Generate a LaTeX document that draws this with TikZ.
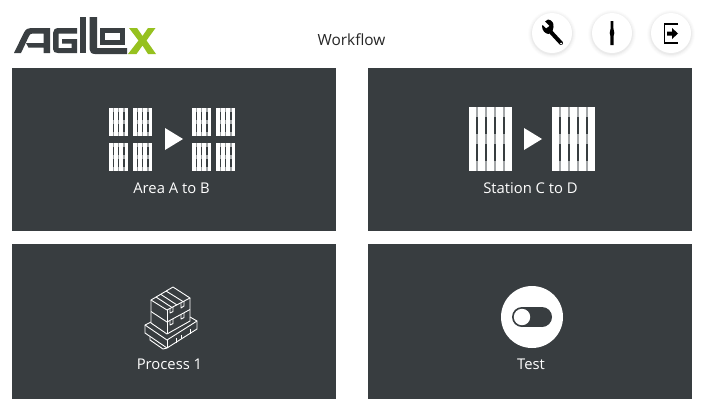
\documentclass[tikz,border=0pt]{standalone}
\usepackage{fontspec}
\setmainfont{Open Sans}
\definecolor{panel}{HTML}{383D40}
\definecolor{slatgray}{HTML}{A3A6A8}
\definecolor{logodark}{HTML}{3A3F42}
\definecolor{logogreen}{HTML}{96C11F}
\tikzset{
  panelbox/.style={fill=panel,draw=none},
  lab/.style={text=white,font=\fontsize{14.8}{16}\selectfont,inner sep=0pt,anchor=center},
  titlelab/.style={text=black!85,font=\fontsize{15.4}{16}\selectfont,inner sep=0pt,anchor=center},
  logod/.style={draw=logodark,line width=5.5pt,line join=round},
  boxline/.style={draw=white,line width=0.9pt,line join=round,fill=none},
}
\newcommand{\palletdraw}[7]{%
  \pgfmathsetmacro{\pw}{#7*#3+(#7-1)*#4}
  \pgfmathsetmacro{\pmid}{#2+#5/2-#6/2}
  \pgfmathsetmacro{\pbot}{#2+#5-#6}
  \fill[slatgray] (#1,#2) rectangle ++(\pw,#6);
  \fill[slatgray] (#1,\pmid) rectangle ++(\pw,#6);
  \fill[slatgray] (#1,\pbot) rectangle ++(\pw,#6);
  \foreach \i in {1,...,#7}{
    \pgfmathsetmacro{\sx}{#1+(\i-1)*(#3+#4)}
    \fill[white] (\sx,#2) rectangle ++(#3,#5);
  }%
}
\newcommand{\roundbtn}[1]{%
  \foreach \r/\o in {24/0.012,23/0.015,22/0.02,21/0.03}{\fill[black,opacity=\o] (#1,34) circle (\r);}
  \fill[white] (#1,33) circle (20);
}
\begin{document}
\begin{tikzpicture}[x=1pt,y=-1pt]
\useasboundingbox (0,0) rectangle (703,399);
\fill[white] (0,0) rectangle (703,399);
% panels
\fill[panelbox] (12,68) rectangle (336,231);
\fill[panelbox] (368,68) rectangle (692,231);
\fill[panelbox] (12,244) rectangle (336,399);
\fill[panelbox] (368,244) rectangle (692,399);
% logo A
\fill[logodark] (14,53) -- (24,32.5) .. controls (26,29) and (28,28) .. (31,28) -- (50,28) -- (50,53) -- (43.5,53) -- (43.5,47.5) -- (28.5,47.5) -- (26,43) -- (43.5,43) -- (43.5,33.5) -- (33,33.5) .. controls (31,33.5) and (30,34) .. (29,36) -- (21,53) -- cycle;
% logo G
\fill[logodark] (77,28) -- (59,28) .. controls (55,28) and (53,30) .. (53,33) -- (53,49) .. controls (53,52) and (55,53) .. (58,53) -- (77,53) -- (77,39) -- (62,39) -- (62,43.5) -- (71.5,43.5) -- (71.5,48) -- (58.5,48) -- (58.5,33.5) -- (77,33.5) -- cycle;
% logo I
\fill[logodark] (79.5,17) rectangle (86,53);
% logo L
\fill[logodark] (89.5,17) -- (97,17) -- (97,48) -- (127,48) -- (127,54) -- (95,54) .. controls (91.5,54) and (89.5,52) .. (89.5,49) -- cycle;
% logo O
\draw[logodark,line width=5pt] (102.5,30.5) rectangle (122.5,42.5);
% logo X
\fill[logogreen] (129,28) -- (137,28) -- (142.5,36) -- (148,28) -- (155.5,28) -- (146.5,40.5) -- (156,54) -- (148,54) -- (142.5,45.5) -- (136.5,54) -- (128,54) -- (138.5,40.5) -- cycle;
% title
\node[titlelab] (title) at (351.5,39.5) {Workflow};
% buttons
\roundbtn{552}
\roundbtn{612}
\roundbtn{671}
% wrench
\draw[black,line width=4pt,line cap=round] (549,30) -- (561,43);
\fill[black] (548,19.5) .. controls (552,20) and (554,23) .. (553.5,27) -- (552.5,31) -- (548.5,34) .. controls (545,33.5) and (542.5,31) .. (542,26.5) -- (542.5,25) -- (546,28.5) -- (549.5,26) -- (545,21.5) -- cycle;
\fill[white] (561,43.5) circle (1);
% pin icon
\fill[black] (610.7,21) -- (613.3,21) -- (613.5,29) -- (614.3,33) -- (613.6,36) -- (613.6,45) -- (610.4,45) -- (610.4,36) -- (609.7,33) -- (610.5,29) -- cycle;
% exit icon
\draw[black,line width=1.8pt] (678,24) -- (664.5,24) -- (664.5,43) -- (678,43);
\fill[black] (667,31.5) -- (672,31.5) -- (672,28) -- (678,33.5) -- (672,39) -- (672,35.5) -- (667,35.5) -- cycle;
% pallets A to B
\palletdraw{109}{108}{3.6}{1.6}{28}{4}{4}
\palletdraw{133}{108}{3.6}{1.6}{28}{4}{4}
\palletdraw{109}{143}{3.6}{1.6}{28}{4}{4}
\palletdraw{133}{143}{3.6}{1.6}{28}{4}{4}
\palletdraw{192}{108}{3.6}{1.6}{28}{4}{4}
\palletdraw{216}{108}{3.6}{1.6}{28}{4}{4}
\palletdraw{192}{143}{3.6}{1.6}{28}{4}{4}
\palletdraw{216}{143}{3.6}{1.6}{28}{4}{4}
\fill[white] (165,128) -- (183,139) -- (165,150) -- cycle;
% pallets C to D
\palletdraw{469}{107}{7}{2}{64}{10}{5}
\palletdraw{552}{107}{7}{2}{64}{10}{5}
\fill[white] (524,128) -- (542,139) -- (524,150) -- cycle;
% box pallet icon
\begin{scope}[boxline]
\draw (151,322) -- (145,325) -- (145,333) -- (167,348) -- (197,329) -- (197,321) -- (190,317);
\draw (145,325) -- (167,340) -- (197,321);
\draw (167,340) -- (167,348);
\draw (150,336.5) -- (150,340) -- (163,349) -- (167,348);
\draw (176,342.5) -- (176,337.5) (181,339) -- (181,335);
\draw (190,333.5) -- (190,329);
\draw (151,300) -- (167,310) -- (190,298) -- (173,287) -- cycle;
\draw (151,300) -- (151,323) -- (167,334) -- (190,321) -- (190,298);
\draw (167,310) -- (167,334);
\draw (151,311.5) -- (167,322) -- (190,309.5);
\draw (156,297) -- (172,307.5) (161,294.5) -- (177,305) (166,291) -- (183,301.5);
\draw (170,308.5) -- (170,313) -- (173,311.5) -- (173,306.5);
\draw (181,303) -- (181,308) -- (184,306) -- (184,301);
\draw (170,320.5) -- (170,325) -- (173,323.5) -- (173,318.5);
\draw (181,314.5) -- (181,319) -- (184,317.5) -- (184,313);
\end{scope}
% toggle icon
\fill[white] (532,317) circle (31);
\fill[panel] (522,307) rectangle (542,327);
\fill[panel] (522,317) circle (10);
\fill[panel] (542,317) circle (10);
\fill[white] (522,317) circle (8.2);
% labels
\node[lab] (areaab) at (171.5,188.5) {Area A to B};
\node[lab] (stationcd) at (530.5,188.5) {Station C to D};
\node[lab] (process) at (169.5,364) {Process 1};
\node[lab] (test) at (531,364) {Test};
\end{tikzpicture}
\end{document}
